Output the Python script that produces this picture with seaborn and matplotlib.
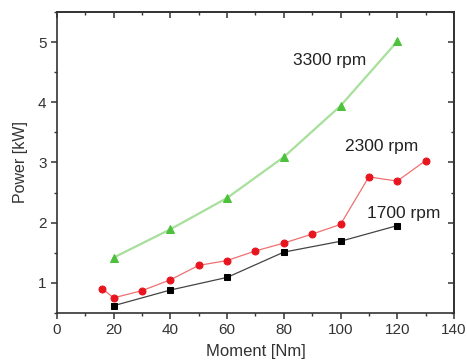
import matplotlib
matplotlib.use("Agg")
import matplotlib.pyplot as plt
import seaborn as sns
import pandas as pd
import numpy as np

# Data
moment_3300 = [20, 40, 60, 80, 100, 120]
power_3300 = [1.42, 1.89, 2.41, 3.09, 3.94, 5.01]

moment_2300 = [16, 20, 30, 40, 50, 60, 70, 80, 90, 100, 110, 120, 130]
power_2300 = [0.90, 0.75, 0.87, 1.05, 1.29, 1.37, 1.53, 1.66, 1.81, 1.97, 2.76, 2.69, 3.03]

moment_1700 = [20, 40, 60, 80, 100, 120]
power_1700 = [0.62, 0.88, 1.09, 1.51, 1.69, 1.95]

labels = ["3300 rpm", "2300 rpm", "1700 rpm"]

sns.set_style("ticks")
plt.rcParams['font.family'] = ['Liberation Sans', 'DejaVu Sans']

fig = plt.figure(figsize=(4.67, 3.63), dpi=100)
ax = fig.add_axes([0.122, 0.138, 0.850, 0.829])

df3 = pd.DataFrame({"Moment": moment_3300, "Power": power_3300})
df2 = pd.DataFrame({"Moment": moment_2300, "Power": power_2300})
df1 = pd.DataFrame({"Moment": moment_1700, "Power": power_1700})

sns.lineplot(data=df3, x="Moment", y="Power", ax=ax, color="#a6e09a", lw=1.6,
             marker="^", markersize=5.5, markerfacecolor="#4cc23c",
             markeredgecolor="#4cc23c", zorder=3)
sns.lineplot(data=df2, x="Moment", y="Power", ax=ax, color="#f07070", lw=0.9,
             marker="o", markersize=5, markerfacecolor="#e8141e",
             markeredgecolor="#e8141e", zorder=3)
sns.lineplot(data=df1, x="Moment", y="Power", ax=ax, color="#444444", lw=0.9,
             marker="s", markersize=4, markerfacecolor="black",
             markeredgecolor="black", zorder=3)

fs_lab = 12.5
ax.text(96.3, 4.70, labels[0], ha="center", va="center", fontsize=fs_lab, color="#222222")
ax.text(114.4, 3.26, labels[1], ha="center", va="center", fontsize=fs_lab, color="#222222")
ax.text(122.4, 2.15, labels[2], ha="center", va="center", fontsize=fs_lab, color="#222222")

ax.set_xlim(0, 140)
ax.set_ylim(0.5, 5.5)
ax.set_xticks(np.arange(0, 141, 20))
ax.set_xticks(np.arange(10, 141, 20), minor=True)
ax.set_yticks([1, 2, 3, 4, 5])
ax.set_yticks(np.arange(0.5, 5.6, 1.0), minor=True)
ax.set_xlabel("Moment [Nm]", fontsize=12, color="#333333", labelpad=5)
ax.set_ylabel("Power [kW]", fontsize=11.5, color="#333333", labelpad=7)

for s in ax.spines.values():
    s.set_visible(True)
    s.set_linewidth(1.2)
    s.set_color("#333333")

ax.tick_params(which="major", direction="out", length=4, width=1.1, color="#333333",
               labelsize=11, labelcolor="#333333")
ax.tick_params(which="minor", direction="out", length=2.5, width=1.0, color="#333333")

top = ax.secondary_xaxis("top")
top.set_xticks(np.arange(0, 141, 20))
top.set_xticks(np.arange(10, 141, 20), minor=True)
top.tick_params(which="both", direction="in", labeltop=False, color="#333333")
top.tick_params(which="major", length=4, width=1.1)
top.tick_params(which="minor", length=2.5, width=1.0)
top.spines["top"].set_linewidth(1.2)

right = ax.secondary_yaxis("right")
right.set_yticks([1, 2, 3, 4, 5])
right.set_yticks(np.arange(0.5, 5.6, 1.0), minor=True)
right.tick_params(which="both", direction="in", labelright=False, color="#333333")
right.tick_params(which="major", length=4, width=1.1)
right.tick_params(which="minor", length=2.5, width=1.0)
right.spines["right"].set_linewidth(1.2)

fig.savefig("out.png", dpi=100, facecolor="white")
